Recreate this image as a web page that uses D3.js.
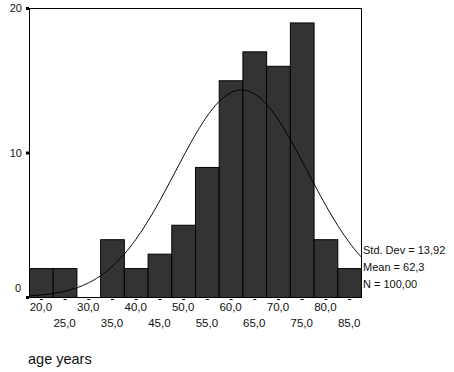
<!DOCTYPE html>
<html>
<head>
<meta charset="utf-8">
<script src="https://cdn.jsdelivr.net/npm/d3@7"></script>
<style>
  body { margin: 0; background: #fff; }
  text { font-family: "Liberation Sans", Arial, sans-serif; fill: #111; }
</style>
</head>
<body>
<script>
// histogram bins (centres) and counts
const binCenters = [20, 25, 30, 35, 40, 45, 50, 55, 60, 65, 70, 75, 80, 85];
const counts = [2, 2, 0, 4, 2, 3, 5, 9, 15, 17, 16, 19, 4, 2];
const yTicks = [0, 10, 20];
const binWidth = 5;
const stats = { mean: 62.3, sd: 13.92, n: 100 };
const statLabels = ["Std. Dev = 13,92", "Mean = 62,3", "N = 100,00"];
const xTitle = "age years";

const W = 454, H = 372;
const plotLeft = 29, plotRight = 361, plotTop = 8, plotBottom = 297;

let svg = d3.select("body").append("svg").attr("width", W).attr("height", H);

let x = d3.scaleLinear()
    .domain([binCenters[0] - binWidth / 2, binCenters[binCenters.length - 1] + binWidth / 2])
    .range([plotLeft, plotRight]);
let y = d3.scaleLinear().domain([0, 20]).range([plotBottom, plotTop]);

let fmt = d => d.toFixed(1).replace(".", ",");

//frame
svg.append("rect")
    .attr("x", plotLeft + 0.5).attr("y", plotTop + 0.5)
    .attr("width", plotRight - plotLeft).attr("height", plotBottom - plotTop)
    .attr("fill", "none").attr("stroke", "#000").attr("stroke-width", 1);

//bars
svg.selectAll("rect.bar")
    .data(binCenters).enter().append("rect")
    .attr("class", "bar")
    .attr("x", d => x(d - binWidth / 2) + 0.5)
    .attr("y", (d, i) => y(counts[i]) + 0.5)
    .attr("width", x(binWidth) - x(0))
    .attr("height", (d, i) => y(0) - y(counts[i]))
    .attr("fill", "#333")
    .attr("stroke", "#000")
    .attr("stroke-width", 1)
    .style("display", (d, i) => counts[i] > 0 ? null : "none");

//normal curve
let peak = stats.n * binWidth / (stats.sd * Math.sqrt(2 * Math.PI));
let curvePts = d3.range(x.domain()[0], x.domain()[1] + 0.01, 0.25).map(v => {
    let z = (v - stats.mean) / stats.sd;
    return [v, peak * Math.exp(-z * z / 2)];
});
svg.append("path")
    .datum(curvePts)
    .attr("d", d3.line().x(d => x(d[0])).y(d => y(d[1])))
    .attr("fill", "none").attr("stroke", "#000").attr("stroke-width", 1);

//y ticks
svg.selectAll("rect.ytick")
    .data(yTicks).enter().append("rect")
    .attr("x", plotLeft - 3).attr("y", d => y(d) - 1)
    .attr("width", 3).attr("height", 3).attr("fill", "#000");
svg.selectAll("text.ylab")
    .data(yTicks).enter().append("text")
    .attr("x", d => d === 0 ? 21 : 22)
    .attr("y", d => d === 0 ? y(d) - 5 : y(d) + 4)   // the 0 sits above its tick
    .attr("text-anchor", "end").attr("font-size", 11)
    .text(d => d);

//x ticks
svg.selectAll("rect.xtick")
    .data(binCenters).enter().append("rect")
    .attr("x", d => x(d) - 1).attr("y", plotBottom + 2)
    .attr("width", 3).attr("height", 1).attr("fill", "#000");
svg.selectAll("text.xlab")
    .data(binCenters).enter().append("text")
    .attr("x", d => x(d))
    .attr("y", (d, i) => i % 2 === 0 ? 311 : 327)
    .attr("text-anchor", "middle").attr("font-size", 11.5)
    .text(fmt);

//stats
svg.selectAll("text.stat")
    .data(statLabels).enter().append("text")
    .attr("x", 363).attr("y", (d, i) => 254 + i * 17)
    .attr("font-size", 11)
    .text(d => d);

//title
svg.append("text")
    .attr("x", 28).attr("y", 364)
    .attr("font-size", 14.5)
    .text(xTitle);
</script>
</body>
</html>
